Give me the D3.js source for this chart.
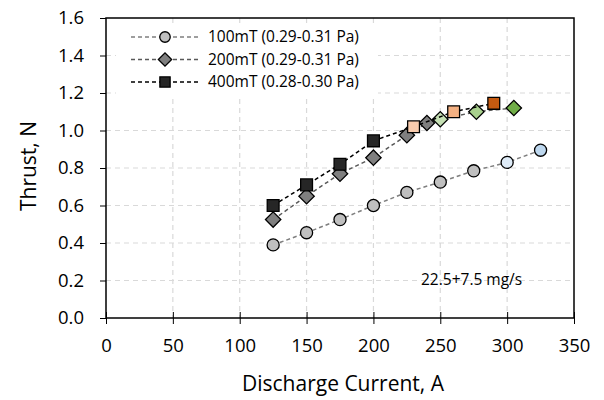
<!DOCTYPE html>
<html>
<head>
<meta charset="utf-8">
<script src="https://cdn.jsdelivr.net/npm/d3@7"></script>
<style>
  body { margin: 0; background: #fff; }
  text { font-family: "Open Sans", "Liberation Sans", sans-serif; fill: #000; }
</style>
</head>
<body>
<div id="chart"></div>
<script>
// data
var current100 = [125, 150, 175, 200, 225, 250, 275, 300, 325];
var thrust100  = [0.39, 0.455, 0.525, 0.60, 0.67, 0.725, 0.785, 0.83, 0.895];
var current200 = [125, 150, 175, 200, 225, 240, 250, 277, 305];
var thrust200  = [0.525, 0.65, 0.77, 0.855, 0.975, 1.04, 1.06, 1.10, 1.12];
var current400 = [125, 150, 175, 200, 230, 260, 290];
var thrust400  = [0.60, 0.71, 0.82, 0.945, 1.02, 1.10, 1.145];
var seriesNames = ["100mT (0.29-0.31 Pa)", "200mT (0.29-0.31 Pa)", "400mT (0.28-0.30 Pa)"];
var xTicks = [0, 50, 100, 150, 200, 250, 300, 350];
var yTicks = [0, 0.2, 0.4, 0.6, 0.8, 1.0, 1.2, 1.4, 1.6];

var svgWidth = 604, svgHeight = 400;
var margin = { top: 18, right: 30, bottom: 82, left: 106 };
var chartWidth = svgWidth - margin.left - margin.right;
var chartHeight = svgHeight - margin.top - margin.bottom;

var svg = d3.select("#chart").append("svg")
  .attr("width", svgWidth)
  .attr("height", svgHeight);

var chartGroup = svg.append("g")
  .attr("transform", `translate(${margin.left}, ${margin.top})`);

var xScale = d3.scaleLinear().domain([0, 350]).range([0, chartWidth]);
var yScale = d3.scaleLinear().domain([0, 1.6]).range([chartHeight, 0]);

// gridlines
chartGroup.append("g").selectAll("line").data(xTicks.slice(1, -1)).enter()
  .append("line")
  .attr("x1", d => xScale(d)).attr("x2", d => xScale(d))
  .attr("y1", 0).attr("y2", chartHeight)
  .attr("stroke", "#d9d9d9").attr("stroke-width", 1.2).attr("stroke-dasharray", "5,4");
chartGroup.append("g").selectAll("line").data(yTicks.slice(1, -1)).enter()
  .append("line")
  .attr("x1", 0).attr("x2", chartWidth)
  .attr("y1", d => yScale(d)).attr("y2", d => yScale(d))
  .attr("stroke", "#d9d9d9").attr("stroke-width", 1.2).attr("stroke-dasharray", "5,4");

// plot box
chartGroup.append("rect")
  .attr("width", chartWidth).attr("height", chartHeight)
  .attr("fill", "none").attr("stroke", "#000").attr("stroke-width", 1.5);

// axes
var xAxis = d3.axisBottom(xScale).tickValues(xTicks).tickSize(6).tickFormat(d3.format("d"));
var yAxis = d3.axisLeft(yScale).tickValues(yTicks).tickSize(6).tickFormat(d3.format(".1f"));

var gx = chartGroup.append("g")
  .attr("transform", `translate(0, ${chartHeight})`)
  .call(xAxis);
gx.selectAll("text").attr("font-size", 18.5).attr("dy", "1.35em");
gx.selectAll("line").attr("stroke", "#000").attr("y1", -6).attr("y2", 6);

var gy = chartGroup.append("g").call(yAxis);
gy.selectAll("text").attr("font-size", 18.5).attr("x", -22);
gy.selectAll("line").attr("stroke", "#000");
gx.select(".domain").remove();
gy.select(".domain").remove();

// axis titles
chartGroup.append("text")
  .attr("text-anchor", "middle")
  .attr("x", chartWidth / 2 + 3)
  .attr("y", chartHeight + 73)
  .attr("font-size", 21)
  .text("Discharge Current, A");

chartGroup.append("text")
  .attr("text-anchor", "middle")
  .attr("transform", "rotate(-90)")
  .attr("x", -chartHeight / 2 + 2)
  .attr("y", -70)
  .attr("font-size", 21)
  .text("Thrust, N");

// legend background
chartGroup.append("rect")
  .attr("x", 10).attr("y", 6).attr("width", 262).attr("height", 72)
  .attr("fill", "#fff");

var series = [
  { x: current100, y: thrust100, shape: d3.symbolCircle, size: 115, rot: 0, line: "#7f7f7f", fill: "#bfbfbf",
    colors: [null, null, null, null, null, null, null, "#deebf7", "#bdd7ee"] },
  { x: current200, y: thrust200, shape: d3.symbolSquare, size: 118, rot: 45, line: "#595959", fill: "#7f7f7f",
    colors: [null, null, null, null, null, null, "#c5e0b4", "#a9d18e", "#70ad47"] },
  { x: current400, y: thrust400, shape: d3.symbolSquare, size: 140, rot: 0, line: "#000", fill: "#262626",
    colors: [null, null, null, null, "#f8cbad", "#f4b183", "#c55a11"] }
];

var line = d3.line().x(d => xScale(d[0])).y(d => yScale(d[1]));

series.forEach(function(s, i) {
  var pts = s.x.map((v, j) => [v, s.y[j], s.colors[j] || s.fill]);
  chartGroup.append("path")
    .datum(pts)
    .attr("d", line)
    .attr("fill", "none")
    .attr("stroke", s.line)
    .attr("stroke-width", 1.5)
    .attr("stroke-dasharray", "4,3");

  chartGroup.append("g").selectAll("path").data(pts).enter()
    .append("path")
    .attr("transform", d => `translate(${xScale(d[0])}, ${yScale(d[1])}) rotate(${s.rot})`)
    .attr("d", d3.symbol().type(s.shape).size(s.size))
    .attr("fill", d => d[2])
    .attr("stroke", "#000")
    .attr("stroke-width", 1.3);

  // legend entry
  var ly = 19 + i * 22.5;
  chartGroup.append("line")
    .attr("x1", 25).attr("x2", 92).attr("y1", ly).attr("y2", ly)
    .attr("stroke", s.line).attr("stroke-width", 1.3).attr("stroke-dasharray", "4,3");
  chartGroup.append("path")
    .attr("transform", `translate(59, ${ly}) rotate(${s.rot})`)
    .attr("d", d3.symbol().type(s.shape).size(s.size * 0.75))
    .attr("fill", s.fill)
    .attr("stroke", "#000")
    .attr("stroke-width", 1.3);
  chartGroup.append("text")
    .attr("x", 102).attr("y", ly)
    .attr("dy", "0.35em")
    .attr("font-size", 15.5)
    .text(seriesNames[i]);
});

chartGroup.append("text")
  .attr("x", 315).attr("y", 267)
  .attr("font-size", 15.5)
  .text("22.5+7.5 mg/s");
</script>
</body>
</html>
